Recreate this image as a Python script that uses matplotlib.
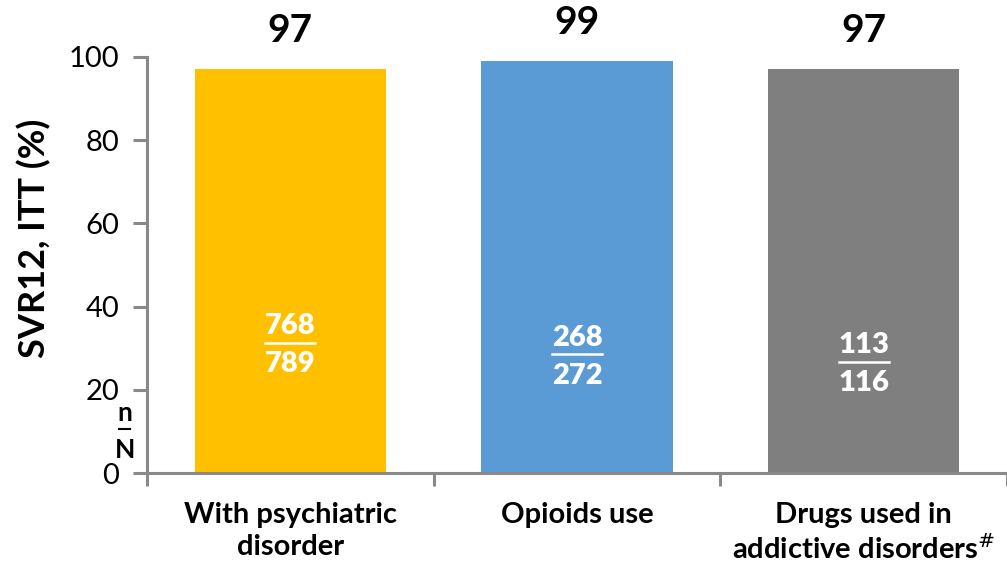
import numpy as np
import matplotlib
matplotlib.use('Agg')
import matplotlib.pyplot as plt
import matplotlib.transforms as mtransforms

categories = ['With psychiatric\ndisorder', 'Opioids use', 'Drugs used in\naddictive disorders$^{\\#}$']
svr = [97, 99, 97]
n_resp = [768, 268, 113]
n_total = [789, 272, 116]
colours = ['#FFC000', '#5B9BD5', '#7F7F7F']
frac_y = [35.3, 32.5, 30.8]  # height of numerator inside each bar

plt.rcParams['font.family'] = ['Lato', 'DejaVu Sans']
axis_grey = '#898989'

fig = plt.figure(figsize=(10.07, 5.68), dpi=100)
ax = fig.add_axes([0.146, 0.167, 0.854, 0.733])

x = np.arange(len(categories))
ax.bar(x, svr, width=0.667, color=colours, zorder=2)
ax.set_xlim(-0.5, 2.5)
ax.set_ylim(0, 100)

for spine in ['top', 'right']:
    ax.spines[spine].set_visible(False)
for spine in ['left', 'bottom']:
    ax.spines[spine].set_color(axis_grey)
    ax.spines[spine].set_linewidth(2.2)

ax.set_yticks(np.arange(0, 101, 20))
ax.tick_params(axis='y', direction='out', length=10, width=2.2, color=axis_grey,
               labelsize=21, pad=10)
ax.set_xticks([-0.5, 0.5, 1.5, 2.5])
ax.set_xticklabels([])
ax.tick_params(axis='x', direction='out', length=9.5, width=2.2, color=axis_grey)

# category names drawn as text so the two lines stay centred
trans = mtransforms.blended_transform_factory(ax.transData, ax.transAxes)
for (xi, cat) in zip(x, categories):
    ax.text(xi, -0.07, cat, transform=trans, ha='center', va='top', multialignment='center',
            fontsize=21, fontweight='bold', linespacing=1.25)

fig.text(34 / 1007, 1 - 238 / 568, 'SVR12, ITT (%)', rotation=90, ha='center', va='center',
         fontsize=26, fontweight='bold')

for (xi, v, n, N, fy) in zip(x, svr, n_resp, n_total, frac_y):
    ax.text(xi, v + 5, f'{v}', ha='center', va='bottom', fontsize=28, fontweight='bold')
    ax.text(xi, fy, f'{n}', ha='center', va='center', fontsize=21, fontweight='heavy', color='white')
    ax.plot([xi - 0.087, xi + 0.087], [fy - 4.0, fy - 4.0], color='white', lw=1.8, zorder=3)
    ax.text(xi, fy - 9.2, f'{N}', ha='center', va='center', fontsize=21, fontweight='heavy', color='white')

# n / N key next to the axis
ax.text(-0.578, 14.4, 'n', ha='center', va='center', fontsize=19, fontweight='bold', clip_on=False)
ax.plot([-0.598, -0.558], [10.6, 10.6], color='black', lw=1.5, clip_on=False)
ax.text(-0.578, 5.5, 'N', ha='center', va='center', fontsize=19, fontweight='bold', clip_on=False)

plt.savefig('out.png', dpi=100)
plt.close()
